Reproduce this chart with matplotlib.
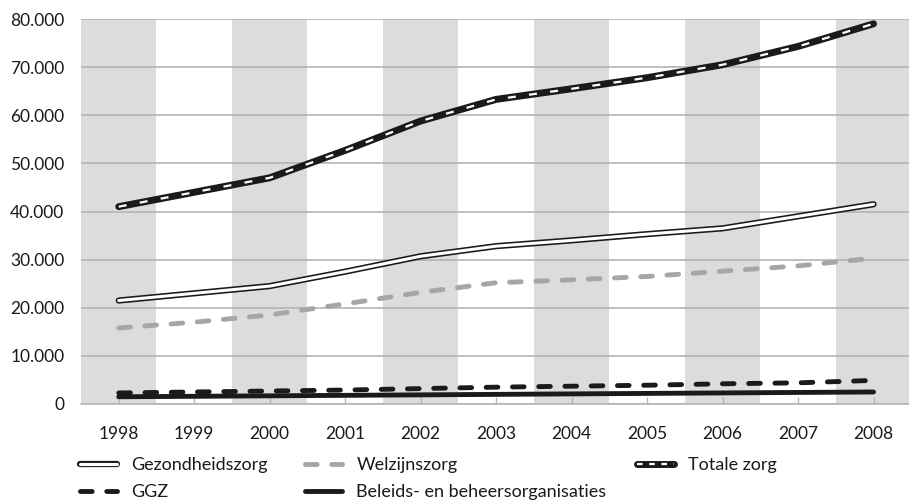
import numpy as np
import matplotlib
matplotlib.use('Agg')
import matplotlib.pyplot as plt
from matplotlib.lines import Line2D
from matplotlib.legend_handler import HandlerTuple
from matplotlib.ticker import FuncFormatter

plt.rcParams['font.family'] = ['Lato', 'DejaVu Sans']

# Data
jaren = [1998, 1999, 2000, 2001, 2002, 2003, 2004, 2005, 2006, 2007, 2008]
gezondheidszorg = [21500, 23000, 24500, 27500, 30700, 32800, 34000, 35300, 36500, 39000, 41500]
welzijnszorg = [15800, 17000, 18500, 20800, 23200, 25200, 25800, 26500, 27600, 28700, 30300]
totale_zorg = [41000, 44000, 47000, 52700, 58800, 63300, 65500, 67800, 70500, 74300, 79000]
ggz = [2300, 2500, 2700, 2900, 3200, 3500, 3700, 3900, 4200, 4400, 4900]
beleids = [1500, 1600, 1700, 1800, 1900, 2000, 2100, 2200, 2300, 2400, 2500]

grijs = '#dcdcde'
raster = '#b4b4b4'
zwart = '#1a1a1a'

fig = plt.figure(figsize=(9.09, 5.03), dpi=100)
ax = fig.add_axes([81 / 909, 1 - 404 / 503, 828 / 909, 385 / 503])

# Grijze banden om de twee jaar
for j in jaren[::2]:
    ax.axvspan(j - 0.5, j + 0.5, color=grijs, lw=0, zorder=0)

ax.set_xlim(1997.5, 2008.47)
ax.set_ylim(0, 80000)
ax.set_yticks(np.arange(0, 80001, 10000))
ax.set_xticks(jaren)
ax.yaxis.set_major_formatter(FuncFormatter(lambda v, p: f'{int(v):,}'.replace(',', '.')))
ax.grid(axis='y', color=raster, lw=1.2, zorder=1)
ax.set_axisbelow(True)

for s in ['top', 'right', 'left']:
    ax.spines[s].set_visible(False)
ax.spines['bottom'].set_color(raster)
ax.spines['bottom'].set_linewidth(1.2)
ax.tick_params(axis='x', direction='in', length=5, width=1, color=raster, pad=16,
               labelsize=12.5, labelcolor=zwart)
ax.tick_params(axis='y', length=0, pad=12, labelsize=12.5, labelcolor=zwart)

# stijlen
stijl_bel = dict(color=zwart, lw=3.5, solid_capstyle='round')
stijl_ggz = dict(color=zwart, lw=3.5, dashes=(2.4, 3.0), dash_capstyle='round')
stijl_wel = dict(color='#a6a6a6', lw=3.5, dashes=(2.4, 3.0), dash_capstyle='round')
stijl_gez_a = dict(color=zwart, lw=4.5, solid_capstyle='round')
stijl_gez_b = dict(color='white', lw=2.2, solid_capstyle='round')
stijl_tot_a = dict(color=zwart, lw=5, solid_capstyle='round')
stijl_tot_b = dict(color='white', lw=1.6, dashes=(3.6, 6))

# Lijnen
ax.plot(jaren, beleids, zorder=3, **stijl_bel)
ax.plot(jaren, ggz, zorder=3, **stijl_ggz)
ax.plot(jaren, welzijnszorg, zorder=3, **stijl_wel)
ax.plot(jaren, gezondheidszorg, zorder=3, **stijl_gez_a)
ax.plot(jaren, gezondheidszorg, zorder=4, **stijl_gez_b)
ax.plot(jaren, totale_zorg, zorder=3, **stijl_tot_a)
ax.plot(jaren, totale_zorg, zorder=4, **stijl_tot_b)

# Legenda (drie kolommen, elk apart geplaatst)
h_gez = (Line2D([], [], **stijl_gez_a), Line2D([], [], **stijl_gez_b))
h_ggz = Line2D([], [], **stijl_ggz)
h_wel = Line2D([], [], **stijl_wel)
h_bel = Line2D([], [], **stijl_bel)
h_tot = (Line2D([], [], **stijl_tot_a),
         Line2D([], [], color='white', lw=1.6, dashes=(2.5, 3)))

kolommen = [
    ([h_gez, h_ggz], ['Gezondheidszorg', 'GGZ'], 80),
    ([h_wel, h_bel], ['Welzijnszorg', 'Beleids- en beheersorganisaties'], 305),
    ([h_tot], ['Totale zorg'], 637),
]
for hs, ls, xpos in kolommen:
    fig.legend(hs, ls, loc='upper left',
               bbox_to_anchor=(xpos / 909, 1 - 457 / 503), frameon=False,
               handler_map={tuple: HandlerTuple(ndivide=1, pad=0)},
               fontsize=13, handlelength=2.05, handletextpad=0.8,
               labelspacing=0.6, borderpad=0, borderaxespad=0,
               labelcolor=zwart)

fig.savefig('out.png', dpi=100)
